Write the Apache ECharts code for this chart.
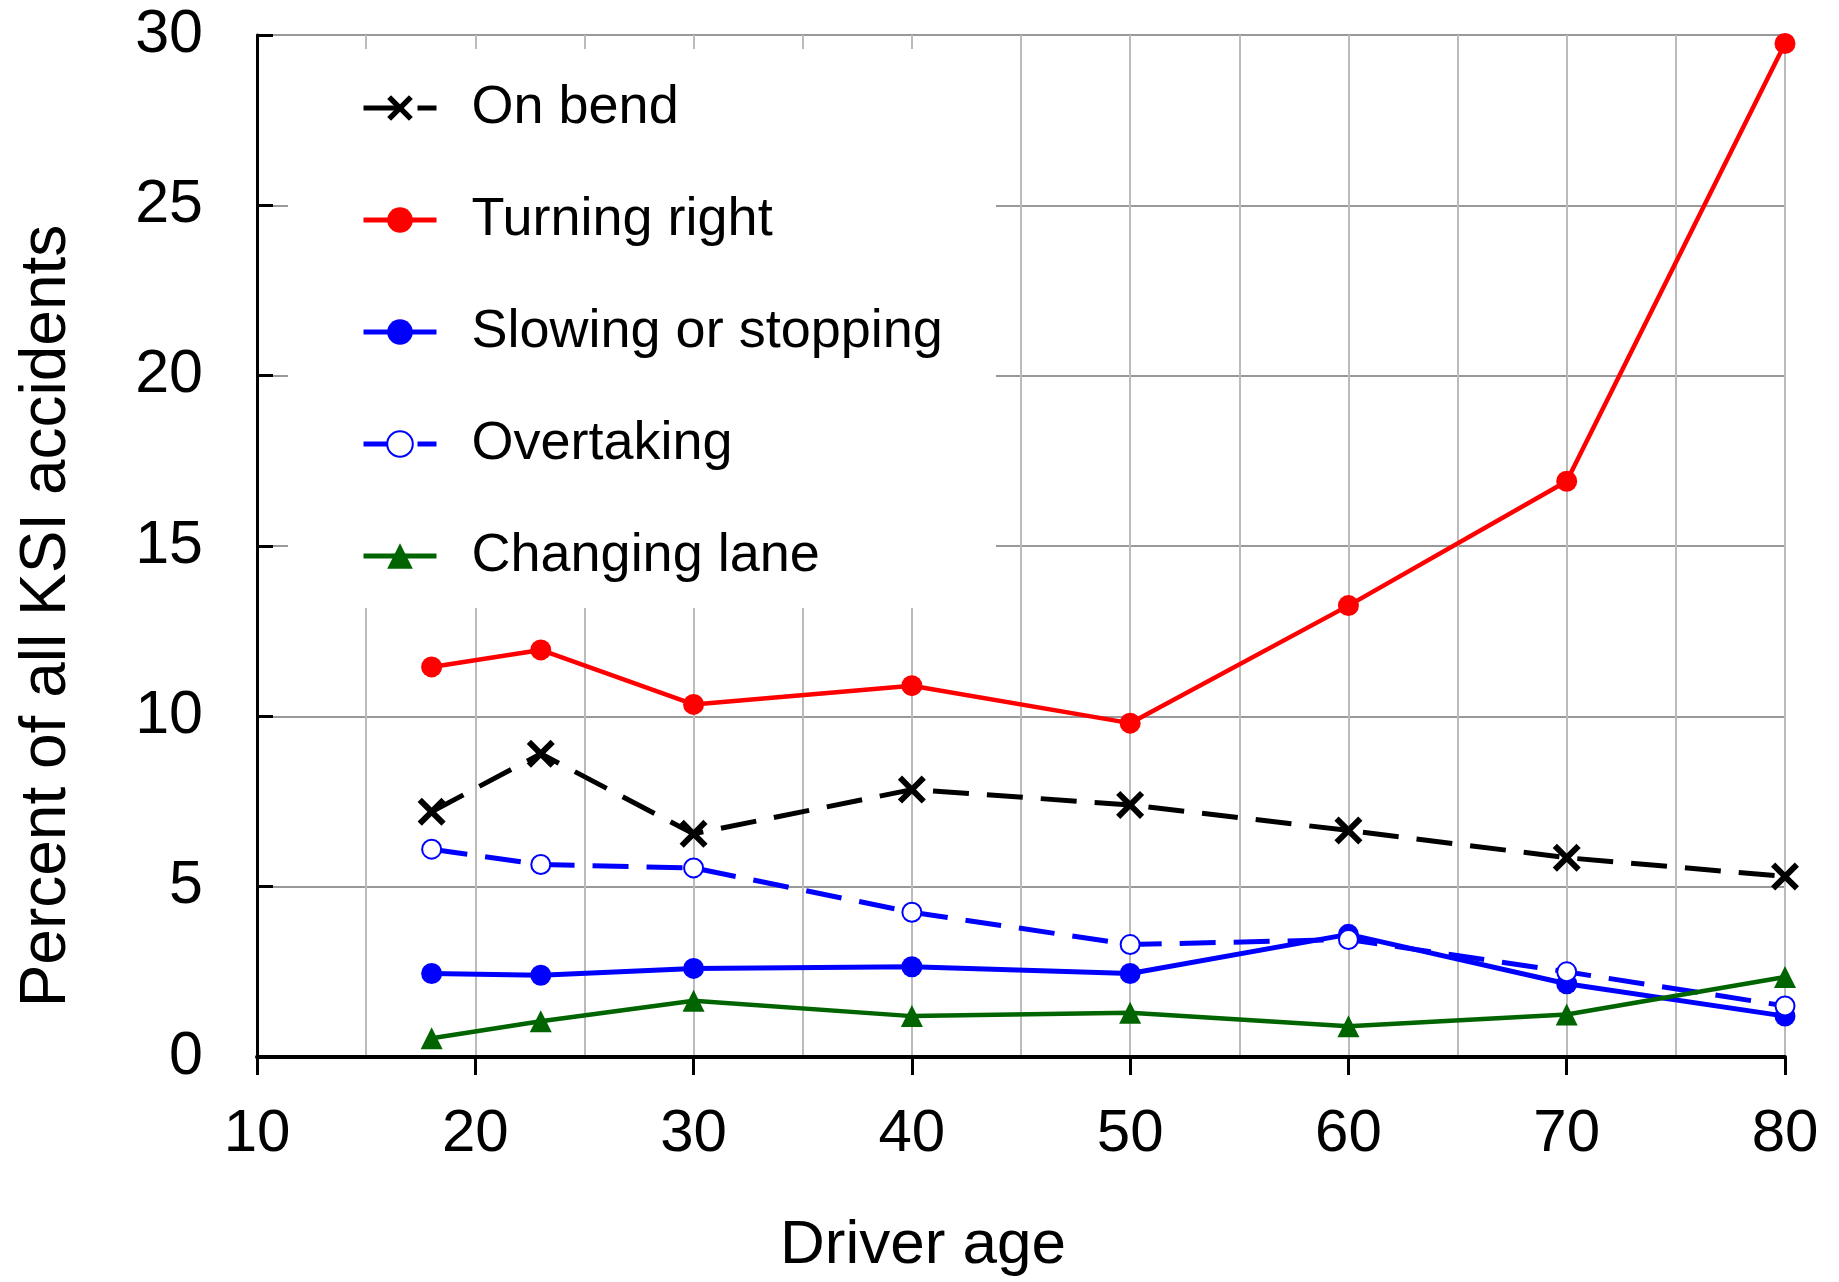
<!DOCTYPE html>
<html>
<head>
<meta charset="utf-8">
<script src="https://cdn.jsdelivr.net/npm/echarts@6/dist/echarts.min.js"></script>
<style>
html,body{margin:0;padding:0;background:#fff;}
#chart{width:1839px;height:1282px;}
</style>
</head>
<body>
<div id="chart"></div>
<script>
const ages = [18, 23, 30, 40, 50, 60, 70, 80];
const onBend = [7.2, 8.9, 6.55, 7.85, 7.4, 6.65, 5.85, 5.3];
const turningRight = [11.45, 11.95, 10.35, 10.9, 9.8, 13.25, 16.9, 29.75];
const slowingStopping = [2.45, 2.4, 2.6, 2.65, 2.45, 3.6, 2.15, 1.2];
const overtaking = [6.1, 5.65, 5.55, 4.25, 3.3, 3.45, 2.5, 1.5];
const changingLane = [0.55, 1.05, 1.65, 1.2, 1.3, 0.9, 1.25, 2.35];
const seriesNames = ['On bend', 'Turning right', 'Slowing or stopping', 'Overtaking', 'Changing lane'];

const pair = arr => ages.map((a, i) => [a, arr[i]]);
const crossPath = 'path://M0,1.5 L1.5,0 L5,3.5 L8.5,0 L10,1.5 L6.5,5 L10,8.5 L8.5,10 L5,6.5 L1.5,10 L0,8.5 L3.5,5 Z';
const FONT = '"Liberation Sans", Arial, sans-serif';

const chart = echarts.init(document.getElementById('chart'));
chart.setOption({
  animation: false,
  backgroundColor: '#fff',
  textStyle: { fontFamily: FONT },
  grid: { left: 257, top: 35, right: 54, bottom: 223, show: true, borderColor: '#888', borderWidth: 2 },
  graphic: [{
    type: 'rect', z: 1, silent: true,
    shape: { x: 288, y: 49, width: 708, height: 559 },
    style: { fill: '#fff' }
  }],
  legend: {
    orient: 'vertical', left: 356, top: 73,
    itemWidth: 73, itemHeight: 32, itemGap: 52,
    lineStyle: { width: 5 },
    textStyle: { fontSize: 54, color: '#000', fontFamily: FONT, lineHeight: 60, padding: [0, 0, 0, 30] },
    data: seriesNames
  },
  xAxis: {
    type: 'value', min: 10, max: 80, interval: 10,
    name: 'Driver age', nameLocation: 'middle', nameGap: 158,
    nameTextStyle: { fontSize: 62, color: '#000', fontFamily: FONT, padding: [0, 196, 0, 0] },
    axisLine: { show: true, lineStyle: { color: '#000', width: 4 } },
    axisTick: { show: true, inside: false, length: 18, lineStyle: { color: '#000', width: 3 } },
    axisLabel: { fontSize: 60, color: '#000', margin: 47, fontFamily: FONT },
    splitLine: { show: true, lineStyle: { color: '#bbb', width: 2 } },
    minorTick: { show: false, splitNumber: 2 },
    minorSplitLine: { show: true, lineStyle: { color: '#bbb', width: 2 } }
  },
  yAxis: {
    type: 'value', min: 0, max: 30, interval: 5,
    name: 'Percent of all KSI accidents', nameLocation: 'middle', nameGap: 178,
    nameTextStyle: { fontSize: 64, color: '#000', fontFamily: FONT, padding: [0, 140, 0, 0] },
    axisLine: { show: true, lineStyle: { color: '#000', width: 3 } },
    axisTick: { show: true, inside: true, length: 16, lineStyle: { color: '#000', width: 3 } },
    axisLabel: { fontSize: 61, color: '#000', margin: 54, fontFamily: FONT },
    splitLine: { show: true, lineStyle: { color: '#999', width: 2 } }
  },
  series: [
    { name: seriesNames[0], type: 'line', data: pair(onBend),
      symbol: crossPath, symbolSize: 28,
      itemStyle: { color: '#000' },
      lineStyle: { color: '#000', width: 5, type: [36, 18] } },
    { name: seriesNames[1], type: 'line', data: pair(turningRight),
      symbol: 'circle', symbolSize: 21,
      itemStyle: { color: '#ff0000' },
      lineStyle: { color: '#ff0000', width: 4.5 } },
    { name: seriesNames[2], type: 'line', data: pair(slowingStopping),
      symbol: 'circle', symbolSize: 21,
      itemStyle: { color: '#0000ff' },
      lineStyle: { color: '#0000ff', width: 5 } },
    { name: seriesNames[3], type: 'line', data: pair(overtaking),
      symbol: 'emptyCircle', symbolSize: 19,
      itemStyle: { color: '#0000ff', borderColor: '#0000ff', borderWidth: 4 },
      lineStyle: { color: '#0000ff', width: 5, type: [36, 18] } },
    { name: seriesNames[4], type: 'line', data: pair(changingLane),
      symbol: 'triangle', symbolSize: 22,
      itemStyle: { color: '#006400' },
      lineStyle: { color: '#006400', width: 4.5 } }
  ]
});
</script>
</body>
</html>
